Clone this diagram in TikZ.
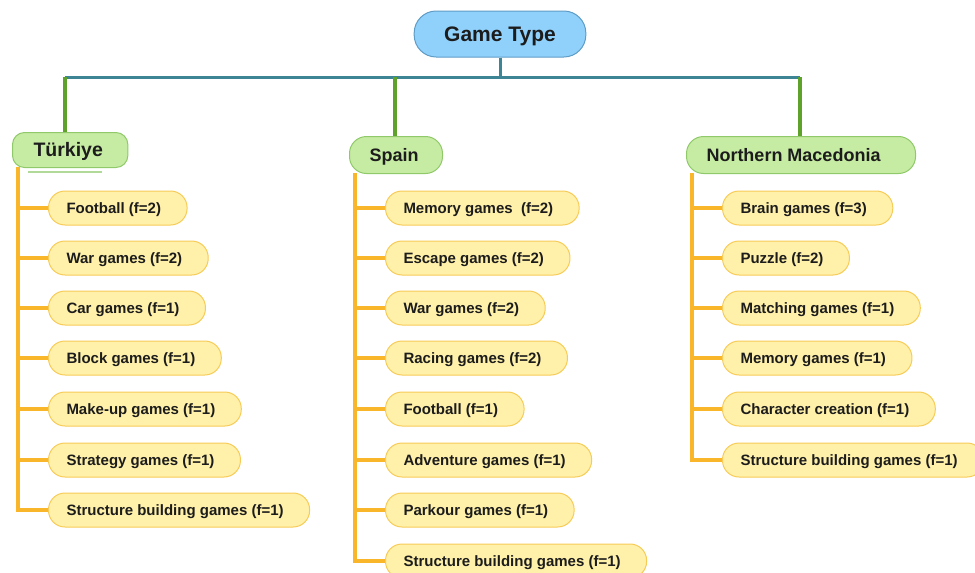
\documentclass[tikz,border=0pt]{standalone}
\usepackage{fontspec}
\setmainfont{Liberation Sans}
\begin{document}
\definecolor{rootfill}{HTML}{90D1FB}
\definecolor{rootline}{HTML}{5E9CC6}
\definecolor{cfill}{HTML}{C6EBA2}
\definecolor{cline}{HTML}{8FC96A}
\definecolor{ifill}{HTML}{FFF1AA}
\definecolor{iline}{HTML}{F7CB57}
\definecolor{trunk}{HTML}{F9B62B}
\definecolor{teal}{HTML}{3D8494}
\definecolor{branch}{HTML}{5FA22B}
\definecolor{ink}{HTML}{1C1C1C}
\begin{tikzpicture}[x=1pt,y=-1pt,
  rootbox/.style={draw=rootline,fill=rootfill,line width=1pt,rounded corners=22pt,
    minimum height=46pt,inner xsep=30pt,inner ysep=0pt,text=ink,
    text height=15.5pt,text depth=0.5pt,
    font=\bfseries\fontsize{21}{24}\selectfont},
  countrybox/.style={draw=cline,fill=cfill,line width=1pt,rounded corners=17pt,
    minimum height=37pt,inner xsep=20pt,inner ysep=0pt,text=ink,anchor=west,
    text height=13.2pt,text depth=0.5pt,
    font=\bfseries\fontsize{18}{21}\selectfont,execute at end node={\hspace*{4pt}}},
  itembox/.style={draw=iline,fill=ifill,line width=1pt,rounded corners=16.5pt,
    minimum height=34pt,inner xsep=18pt,inner ysep=0pt,text=ink,anchor=west,
    text height=11pt,text depth=0.5pt,
    font=\bfseries\fontsize{15}{18}\selectfont,execute at end node={\hspace*{8pt}}},
  tealline/.style={draw=teal,line width=3pt},
  greenline/.style={draw=branch,line width=4pt},
  trunkline/.style={draw=trunk,line width=3.5pt}
]
\useasboundingbox (0,0) rectangle (975,573);

% the bar that carries the three countries
\coordinate (barL) at (65,77);
\coordinate (barR) at (800,77);
\coordinate (barM) at (500,77);
\coordinate (barS) at (395,77);

% lower ends of the country branches
\coordinate (tkdrop) at (65,132);
\coordinate (esdrop) at (395,137);
\coordinate (mkdrop) at (800,137);

% tops of the item trunks
\coordinate (tktr) at (18,167);
\coordinate (estr) at (355,173);
\coordinate (mktr) at (692,173);

% items -- Türkiye
\node[itembox] (tk1) at (48,208) {Football (f=2)};
\node[itembox] (tk2) at (48,258) {War games (f=2)};
\node[itembox] (tk3) at (48,308) {Car games (f=1)};
\node[itembox] (tk4) at (48,358) {Block games (f=1)};
\node[itembox] (tk5) at (48,409) {Make-up games (f=1)};
\node[itembox] (tk6) at (48,460) {Strategy games (f=1)};
\node[itembox] (tk7) at (48,510) {Structure building games (f=1)};

% items -- Spain
\node[itembox] (es1) at (385,208) {Memory games~ (f=2)};
\node[itembox] (es2) at (385,258) {Escape games (f=2)};
\node[itembox] (es3) at (385,308) {War games (f=2)};
\node[itembox] (es4) at (385,358) {Racing games (f=2)};
\node[itembox] (es5) at (385,409) {Football (f=1)};
\node[itembox] (es6) at (385,460) {Adventure games (f=1)};
\node[itembox] (es7) at (385,510) {Parkour games (f=1)};
\node[itembox] (es8) at (385,561) {Structure building games (f=1)};

% items -- Northern Macedonia
\node[itembox] (mk1) at (722,208) {Brain games (f=3)};
\node[itembox] (mk2) at (722,258) {Puzzle (f=2)};
\node[itembox] (mk3) at (722,308) {Matching games (f=1)};
\node[itembox] (mk4) at (722,358) {Memory games (f=1)};
\node[itembox] (mk5) at (722,409) {Character creation (f=1)};
\node[itembox] (mk6) at (722,460) {Structure building games (f=1)};

% yellow trunks, each ending in an elbow into its last item
\draw[trunkline] (tk7.west) -| (tktr);
\foreach \i in {1,...,6} \draw[trunkline] (tk\i.west) -- (tk\i.west -| tktr);
\draw[trunkline] (es8.west) -| (estr);
\foreach \i in {1,...,7} \draw[trunkline] (es\i.west) -- (es\i.west -| estr);
\draw[trunkline] (mk6.west) -| (mktr);
\foreach \i in {1,...,5} \draw[trunkline] (mk\i.west) -- (mk\i.west -| mktr);

% root and the branches down to the countries
\node[rootbox] (root) at (500,34) {Game Type};
\draw[tealline] (root.south) -- (barM);
\draw[tealline] (barL) -- (barR);
\draw[greenline] (barL) -- (tkdrop);
\draw[greenline] (barS) -- (esdrop);
\draw[greenline] (barR) -- (mkdrop);

% country boxes
\node[countrybox,rounded corners=12pt,minimum height=35pt,inner xsep=21pt,
      text height=14pt,
      font=\bfseries\fontsize{19.5}{22}\selectfont] (tk) at (12,150) {Türkiye};
\draw[draw=cline!70,line width=1.6pt] (28,172) -- (102,172);
\node[countrybox] (es) at (349,155) {Spain};
\node[countrybox,execute at end node={\hspace*{11pt}}] (mk) at (686,155) {Northern Macedonia};
\end{tikzpicture}
\end{document}
